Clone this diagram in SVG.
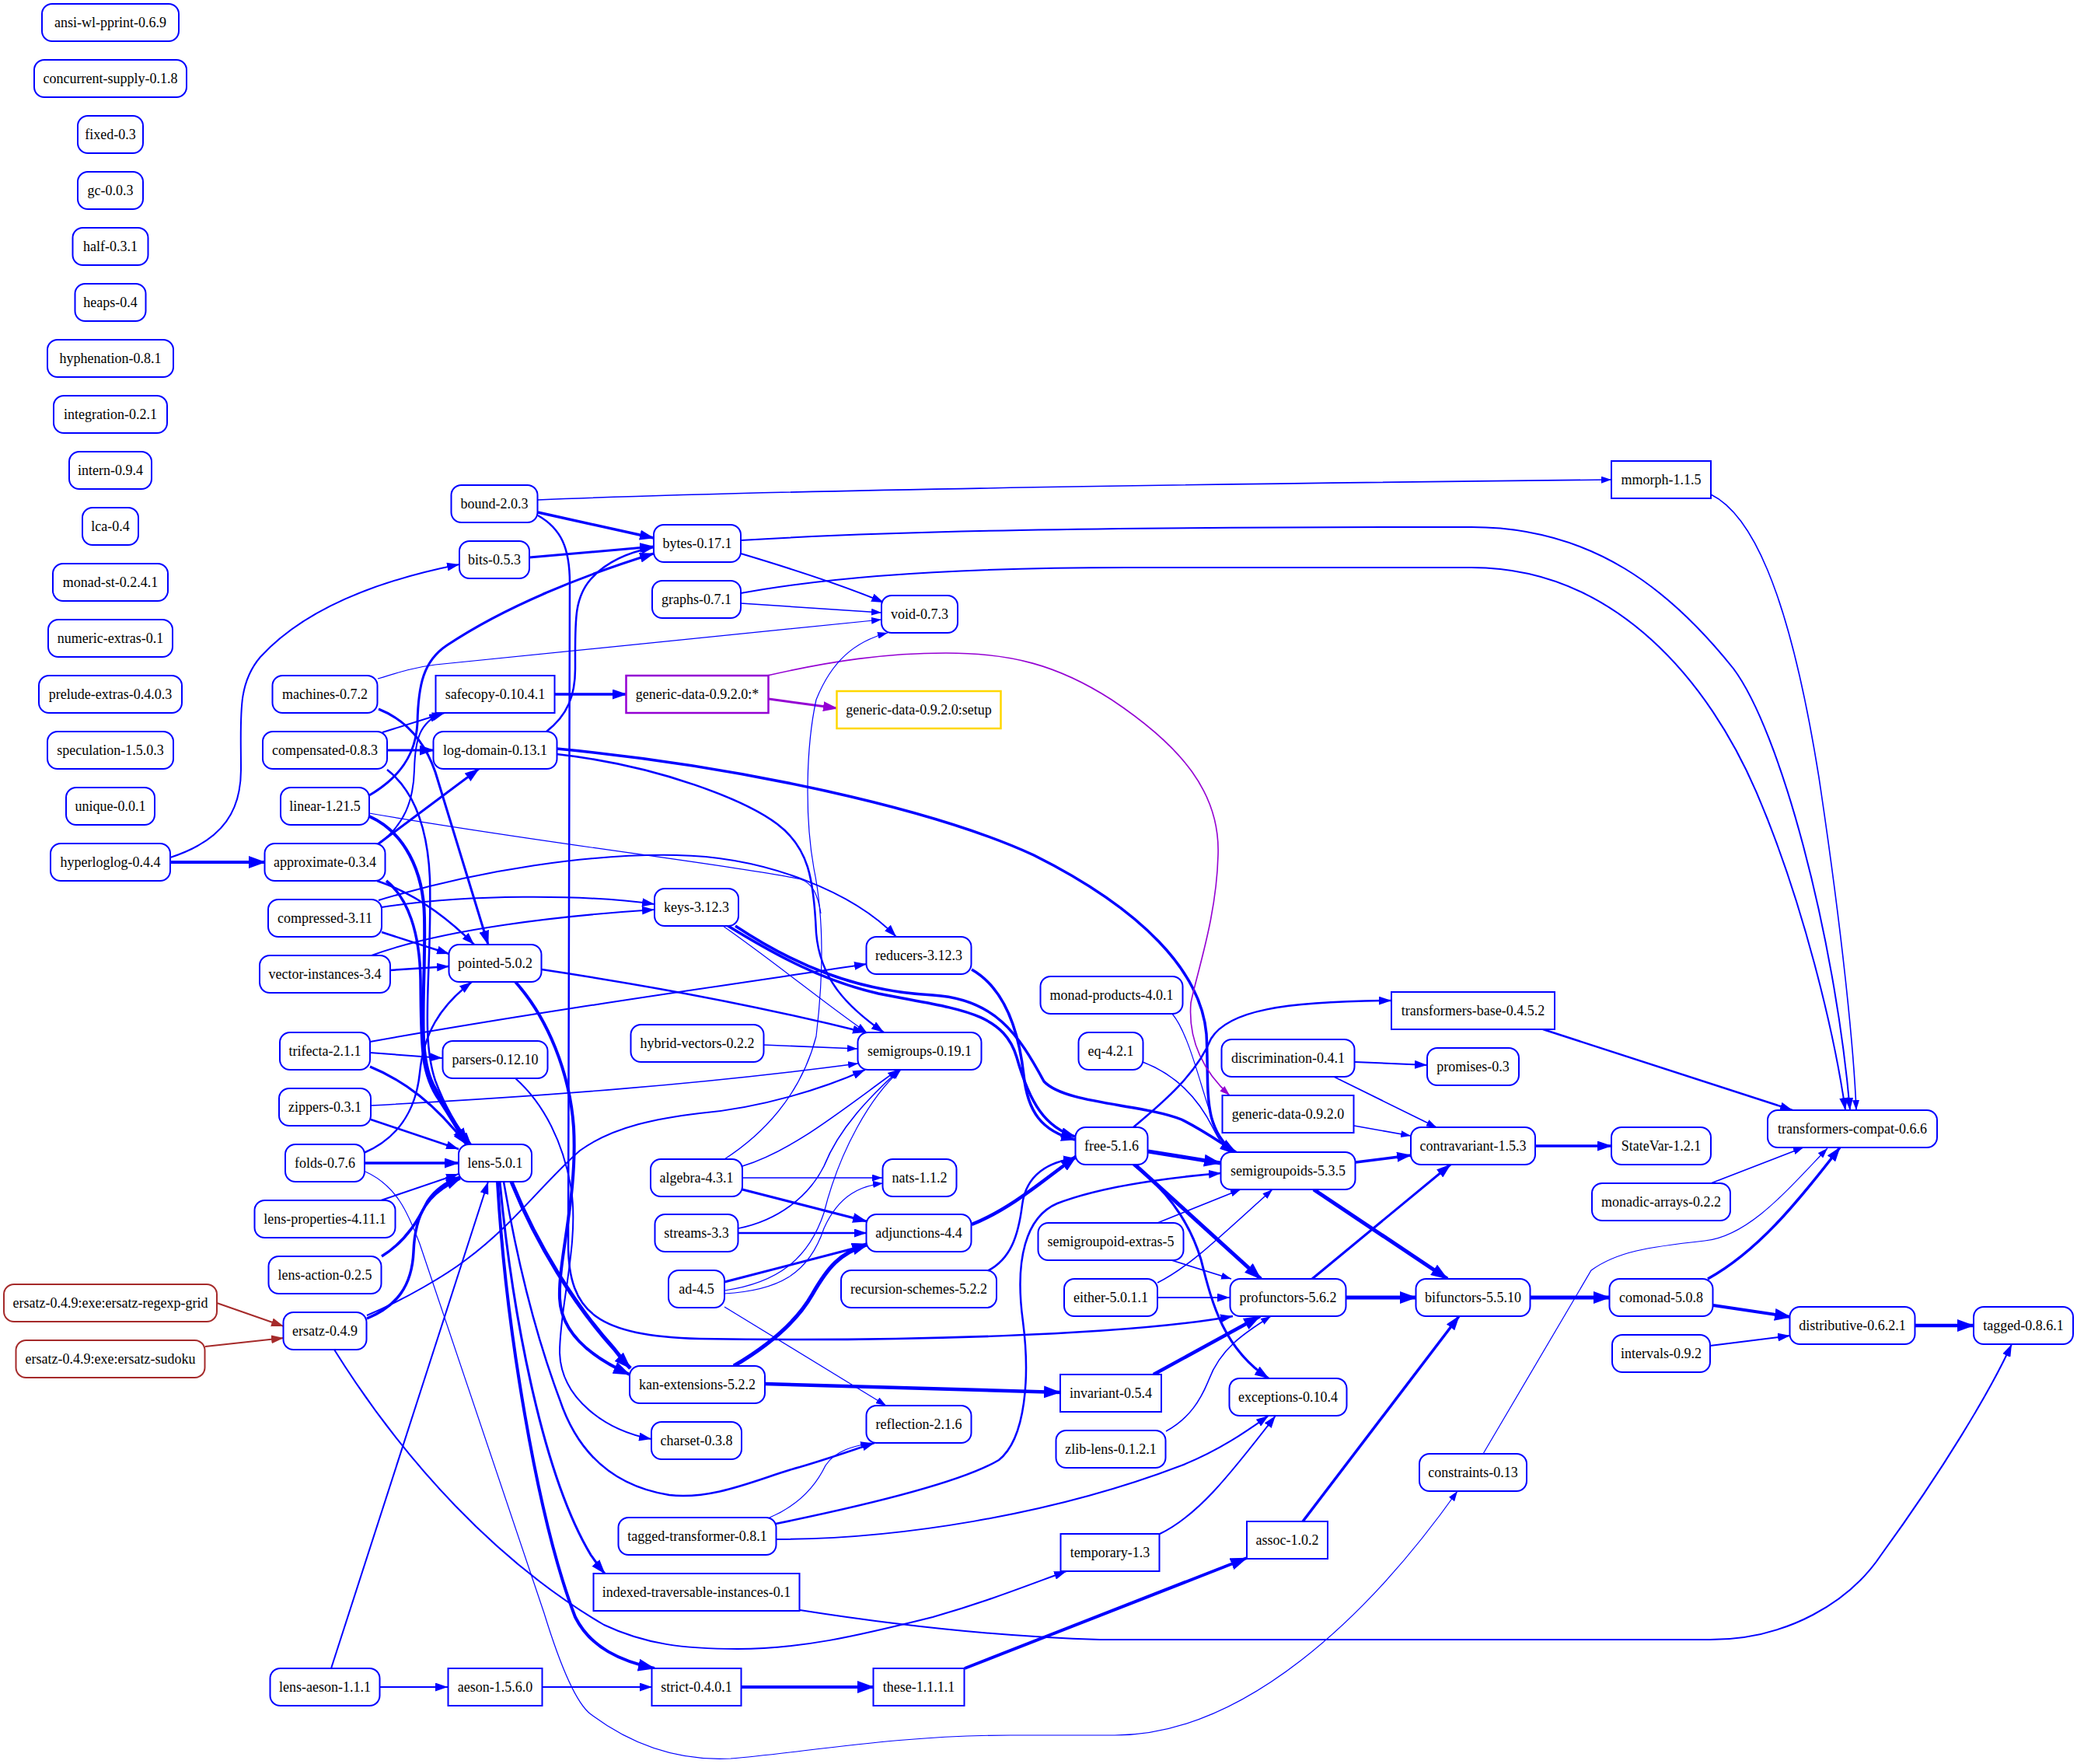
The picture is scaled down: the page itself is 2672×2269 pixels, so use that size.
<svg xmlns="http://www.w3.org/2000/svg" width="2672" height="2269" viewBox="0 0 2672 2269">
<defs>
<style>
#edges path{fill:none;stroke:#0000ff}
.e1{stroke-width:1.2;marker-end:url(#ms)}
.e15{stroke-width:1.6;marker-end:url(#ms)}
.e2{stroke-width:2;marker-end:url(#mm)}
.e25{stroke-width:2.5;marker-end:url(#mm)}
.e3{stroke-width:3;marker-end:url(#ml)}
.e35{stroke-width:3.5;marker-end:url(#ml)}
.e4{stroke-width:4;marker-end:url(#mx)}
.e45{stroke-width:4.5;marker-end:url(#mx)}
.e5{stroke-width:5;marker-end:url(#mx)}
#edges path.na{marker-end:none}
#edges path.pu{stroke:#9400d3}
#edges path.pu.e15{marker-end:url(#mps)}
#edges path.pu.e3{marker-end:url(#mpl)}
#edges path.br{stroke:#a52a2a;marker-end:url(#mbm)}
.n rect{fill:#fff;stroke:#0000ff;stroke-width:2}
.n text{font-family:"Liberation Serif","Times New Roman",serif;font-size:18px;text-anchor:middle;fill:#000}
.n.pu rect{stroke:#9400d3;stroke-width:2.5}
.n.go rect{stroke:#ffd700;stroke-width:2.5}
.n.br rect{stroke:#a52a2a}
</style>
<marker id="ms" markerUnits="userSpaceOnUse" viewBox="0 0 13 9" markerWidth="13" markerHeight="9" refX="13" refY="4.5" orient="auto"><path d="M0,0L13,4.5L0,9z" fill="#0000ff"/></marker>
<marker id="mm" markerUnits="userSpaceOnUse" viewBox="0 0 16 11" markerWidth="16" markerHeight="11" refX="16" refY="5.5" orient="auto"><path d="M0,0L16,5.5L0,11z" fill="#0000ff"/></marker>
<marker id="ml" markerUnits="userSpaceOnUse" viewBox="0 0 19 13" markerWidth="19" markerHeight="13" refX="18" refY="6.5" orient="auto"><path d="M0,0L19,6.5L0,13z" fill="#0000ff"/></marker>
<marker id="mx" markerUnits="userSpaceOnUse" viewBox="0 0 22 16" markerWidth="22" markerHeight="16" refX="21" refY="8" orient="auto"><path d="M0,0L22,8L0,16z" fill="#0000ff"/></marker>
<marker id="mps" markerUnits="userSpaceOnUse" viewBox="0 0 13 9" markerWidth="13" markerHeight="9" refX="13" refY="4.5" orient="auto"><path d="M0,0L13,4.5L0,9z" fill="#9400d3"/></marker>
<marker id="mpl" markerUnits="userSpaceOnUse" viewBox="0 0 19 13" markerWidth="19" markerHeight="13" refX="18" refY="6.5" orient="auto"><path d="M0,0L19,6.5L0,13z" fill="#9400d3"/></marker>
<marker id="mbm" markerUnits="userSpaceOnUse" viewBox="0 0 16 11" markerWidth="16" markerHeight="11" refX="16" refY="5.5" orient="auto"><path d="M0,0L16,5.5L0,11z" fill="#a52a2a"/></marker>
</defs>
<rect width="2672" height="2269" fill="#fff"/>
<g id="edges">
<path class="e2" d="M219,1103 C290,1080 310,1040 310,990 C310,920 305,880 335,845 C390,785 480,748 591,726"/>
<path class="e4" d="M219,1109 L341,1109"/>
<path class="e1" d="M486,873 C515,864 535,858 560,855 L1134,797"/>
<path class="e3" d="M487,912 C520,925 545,950 560,993 L628,1215"/>
<path class="e2" d="M492,942 L572,917"/>
<path class="e3" d="M498,965 L558,965"/>
<path class="e25" d="M498,990 C530,1015 550,1060 553,1130 C556,1250 540,1330 560,1390 C575,1430 592,1455 606,1472"/>
<path class="e3" d="M475,1023 C515,1000 535,970 537,930 C538,880 545,850 575,830 C650,780 750,740 841,712"/>
<path class="e1 na" d="M475,1046 C700,1085 960,1115 1030,1131 C1045,1136 1052,1150 1056,1175"/>
<path class="e4" d="M475,1050 C520,1070 545,1120 546,1180 C548,1280 535,1360 560,1400 C575,1430 588,1452 602,1472"/>
<path class="e3" d="M486,1086 L616,989"/>
<path class="e2" d="M487,1085 C520,1062 532,1030 533,990 C534,950 540,930 568,917"/>
<path class="e25" d="M485,1133 C530,1148 570,1175 610,1215"/>
<path class="e35" d="M497,1133 C525,1155 540,1200 541,1260 C542,1340 540,1380 565,1415 C578,1435 590,1455 600,1472"/>
<path class="e2" d="M491,1167 C600,1150 750,1150 842,1163"/>
<path class="e2" d="M487,1158 C620,1118 760,1098 870,1100 C990,1102 1100,1150 1153,1205"/>
<path class="e25" d="M491,1199 L578,1227"/>
<path class="e2" d="M478,1229 C570,1195 720,1178 842,1170"/>
<path class="e25" d="M502,1248 L578,1243"/>
<path class="e15" d="M692,643 C1000,630 1600,622 2073,617"/>
<path class="e35" d="M692,659 L841,692"/>
<path class="e25" d="M692,663 C722,680 733,705 733,750 L731,1600 C731,1690 770,1718 900,1722 C1150,1726 1450,1718 1586,1693"/>
<path class="e3" d="M681,717 L841,703"/>
<path class="e2" d="M953,695 C1150,683 1400,678 1893,678 C2050,678 2150,760 2230,860 C2290,940 2360,1200 2380,1428"/>
<path class="e2" d="M953,712 C1030,735 1090,755 1137,775"/>
<path class="e2" d="M953,763 C1050,745 1200,730 1450,730 L1893,730 C2080,730 2200,880 2260,1020 C2320,1160 2360,1330 2374,1428"/>
<path class="e15" d="M953,776 L1134,788"/>
<path class="e35" d="M714,893 L806,893"/>
<path class="e25" d="M703,941 C730,920 740,895 740,860 C740,800 738,770 760,745 C780,722 810,710 841,704"/>
<path class="e35" d="M716,963 C950,985 1200,1040 1330,1100 C1470,1170 1545,1250 1552,1330 C1556,1400 1545,1450 1588,1482"/>
<path class="e25" d="M716,970 C850,985 960,1030 1000,1060 C1040,1090 1047,1130 1050,1200 C1055,1260 1090,1295 1137,1328"/>
<path class="e25" d="M697,1247 C850,1270 1000,1300 1113,1328"/>
<path class="e4" d="M663,1263 C705,1310 733,1380 738,1450 C743,1540 718,1620 720,1670 C722,1720 770,1750 810,1768"/>
<path class="e2" d="M663,1387 C700,1420 725,1470 735,1530 C745,1600 720,1680 720,1740 C722,1800 780,1840 838,1851"/>
<path class="e5" d="M658,1520 C690,1600 740,1680 790,1735 C798,1745 804,1753 811,1760"/>
<path class="e25" d="M648,1520 C665,1620 690,1720 720,1800 C740,1860 780,1910 861,1923 C920,1930 980,1900 1029,1887 C1070,1875 1100,1864 1125,1856"/>
<path class="e3" d="M643,1520 C660,1700 700,1900 760,2000 C767,2010 772,2017 778,2024"/>
<path class="e4" d="M640,1520 C650,1700 690,1950 740,2080 C760,2120 800,2137 842,2146"/>
<path class="e2" d="M476,1340 C700,1300 950,1265 1115,1240"/>
<path class="e2" d="M476,1354 L569,1361"/>
<path class="e3" d="M476,1372 C520,1390 560,1420 600,1472"/>
<path class="e15" d="M477,1422 C700,1410 900,1395 1104,1368"/>
<path class="e25" d="M477,1440 L590,1478"/>
<path class="e35" d="M469,1496 L590,1496"/>
<path class="e25" d="M468,1483 C510,1465 535,1430 540,1380 C545,1330 565,1295 607,1263"/>
<path class="e1" d="M470,1507 C510,1525 525,1560 540,1600 L700,2075 C720,2140 740,2190 760,2205 C820,2250 880,2265 940,2262 C1030,2255 1150,2232 1300,2232 L1434,2232 C1600,2232 1760,2080 1875,1918"/>
<path class="e2" d="M490,1544 L590,1510"/>
<path class="e35" d="M491,1616 C525,1595 540,1565 550,1545 C560,1530 575,1520 592,1514"/>
<path class="e35" d="M472,1696 C510,1680 530,1655 532,1610 C534,1560 550,1535 592,1516"/>
<path class="e2" d="M472,1692 C520,1672 574,1640 600,1620 C660,1576 700,1520 746,1480 C790,1448 850,1438 900,1432 C980,1425 1060,1400 1113,1376"/>
<path class="e2" d="M430,1736 C520,1880 640,2010 777,2090 C830,2115 880,2121 949,2121 C1030,2121 1100,2105 1200,2080 C1270,2060 1320,2040 1372,2021"/>
<path class="e2 br" d="M279,1676 L365,1706"/>
<path class="e2 br" d="M264,1732 L365,1721"/>
<path class="e2" d="M426,2146 L628,1520"/>
<path class="e2" d="M489,2170 L576,2170"/>
<path class="e2" d="M697,2170 L839,2170"/>
<path class="e3 pu" d="M989,899 L1077,911"/>
<path class="e15 pu" d="M987,869 C1070,850 1140,840 1217,840 C1300,840 1360,855 1430,900 C1520,960 1570,1020 1567,1100 C1565,1180 1540,1250 1532,1290 C1528,1340 1550,1380 1582,1409"/>
<path class="e35" d="M935,1190 C1000,1230 1060,1262 1130,1278 C1230,1298 1290,1300 1308,1360 C1325,1420 1345,1450 1383,1462"/>
<path class="e35" d="M946,1191 C1020,1240 1100,1275 1200,1280 C1280,1285 1310,1330 1343,1391 C1370,1420 1470,1420 1520,1440 C1550,1455 1570,1470 1590,1482"/>
<path class="e1" d="M930,1191 C1000,1240 1060,1290 1115,1328"/>
<path class="e15" d="M982,1344 L1103,1349"/>
<path class="e1" d="M932,1491 C980,1460 1030,1410 1050,1333 C1060,1250 1060,1180 1047,1117 C1035,1050 1037,960 1050,900 C1070,850 1100,825 1142,814"/>
<path class="e15" d="M955,1500 C1020,1480 1080,1430 1155,1376"/>
<path class="e15" d="M955,1515 L1135,1515"/>
<path class="e3" d="M955,1530 L1115,1571"/>
<path class="e15" d="M950,1580 C1000,1570 1040,1540 1060,1500 C1080,1450 1120,1410 1157,1376"/>
<path class="e25" d="M950,1586 L1115,1586"/>
<path class="e3" d="M932,1649 L1117,1601"/>
<path class="e1" d="M932,1660 C1000,1650 1040,1620 1060,1560 C1080,1480 1120,1410 1159,1376"/>
<path class="e1" d="M932,1664 C1000,1660 1040,1640 1060,1580 C1080,1535 1110,1525 1136,1522"/>
<path class="e1" d="M932,1681 L1140,1808"/>
<path class="e5" d="M944,1757 C990,1730 1025,1700 1045,1665 C1065,1630 1080,1612 1117,1600"/>
<path class="e45" d="M984,1780 L1364,1791"/>
<path class="e1" d="M990,1952 C1030,1935 1050,1910 1062,1885 C1075,1865 1100,1860 1120,1856"/>
<path class="e25" d="M998,1960 C1120,1935 1240,1905 1285,1878 C1320,1850 1325,1770 1316,1700 C1305,1620 1320,1565 1360,1548 C1420,1525 1500,1515 1571,1509"/>
<path class="e2" d="M998,1980 C1150,1980 1350,1950 1520,1885 C1570,1865 1605,1840 1632,1821"/>
<path class="e2" d="M1029,2071 C1150,2090 1280,2105 1415,2109 L2200,2109 C2300,2109 2380,2060 2420,2000 C2500,1890 2560,1790 2588,1729"/>
<path class="e4" d="M954,2170 L1124,2170"/>
<path class="e4" d="M1241,2146 L1604,2004"/>
<path class="e35" d="M1250,1247 C1290,1270 1310,1320 1317,1383 C1322,1430 1340,1455 1383,1466"/>
<path class="e45" d="M1250,1575 C1300,1555 1340,1520 1385,1487"/>
<path class="e25" d="M1270,1635 C1300,1620 1310,1590 1315,1550 C1320,1510 1350,1494 1384,1490"/>
<path class="e1" d="M1508,1304 C1530,1330 1545,1400 1560,1440 C1568,1462 1575,1474 1584,1482"/>
<path class="e15" d="M1470,1366 C1520,1385 1545,1420 1560,1450 C1568,1466 1574,1476 1582,1482"/>
<path class="e5" d="M1477,1481 L1570,1496"/>
<path class="e5" d="M1460,1498 L1622,1645"/>
<path class="e3" d="M1458,1498 C1500,1530 1530,1570 1545,1620 C1560,1680 1575,1735 1632,1773"/>
<path class="e25" d="M1458,1450 C1500,1415 1540,1380 1558,1336 C1580,1300 1650,1288 1790,1287"/>
<path class="e15" d="M1489,1573 L1596,1530"/>
<path class="e15" d="M1507,1621 L1584,1645"/>
<path class="e15" d="M1489,1650 C1530,1630 1570,1590 1637,1530"/>
<path class="e2" d="M1489,1669 L1582,1669"/>
<path class="e45" d="M1484,1768 L1621,1693"/>
<path class="e15" d="M1500,1841 C1530,1825 1545,1800 1555,1775 C1570,1735 1600,1715 1635,1693"/>
<path class="e2" d="M1492,1973 C1540,1950 1580,1900 1641,1821"/>
<path class="e35" d="M1744,1495 L1815,1486"/>
<path class="e5" d="M1690,1530 L1862,1645"/>
<path class="e15" d="M1742,1448 L1815,1461"/>
<path class="e2" d="M1743,1366 L1836,1370"/>
<path class="e15" d="M1716,1385 L1848,1450"/>
<path class="e3" d="M1688,1645 L1866,1498"/>
<path class="e5" d="M1731,1669 L1822,1669"/>
<path class="e35" d="M1676,1957 L1877,1693"/>
<path class="e25" d="M1985,1324 L2306,1428"/>
<path class="e35" d="M1975,1474 L2073,1474"/>
<path class="e5" d="M1969,1669 L2071,1669"/>
<path class="e1" d="M1908,1870 L2047,1634 C2080,1610 2120,1604 2193,1596 C2250,1590 2300,1530 2351,1477"/>
<path class="e15" d="M2201,636 C2250,660 2300,750 2340,1000 C2370,1200 2385,1350 2388,1428"/>
<path class="e15" d="M2201,1522 L2320,1476"/>
<path class="e35" d="M2197,1645 C2260,1610 2310,1550 2367,1476"/>
<path class="e4" d="M2204,1679 L2304,1694"/>
<path class="e2" d="M2200,1731 L2303,1718"/>
<path class="e45" d="M2464,1705 L2539,1705"/>
</g>
<g id="nodes">
<g id="ansi-wl-pprint" class="n"><rect x="54" y="5" width="176" height="48" rx="13"/><text x="142" y="35">ansi-wl-pprint-0.6.9</text></g>
<g id="concurrent-supply" class="n"><rect x="44" y="77" width="196" height="48" rx="13"/><text x="142" y="107">concurrent-supply-0.1.8</text></g>
<g id="fixed" class="n"><rect x="100" y="149" width="84" height="48" rx="13"/><text x="142" y="179">fixed-0.3</text></g>
<g id="gc" class="n"><rect x="100" y="221" width="84" height="48" rx="13"/><text x="142" y="251">gc-0.0.3</text></g>
<g id="half" class="n"><rect x="93.5" y="293" width="97" height="48" rx="13"/><text x="142" y="323">half-0.3.1</text></g>
<g id="heaps" class="n"><rect x="96.5" y="365" width="91" height="48" rx="13"/><text x="142" y="395">heaps-0.4</text></g>
<g id="hyphenation" class="n"><rect x="61" y="437" width="162" height="48" rx="13"/><text x="142" y="467">hyphenation-0.8.1</text></g>
<g id="integration" class="n"><rect x="69" y="509" width="146" height="48" rx="13"/><text x="142" y="539">integration-0.2.1</text></g>
<g id="intern" class="n"><rect x="89" y="581" width="106" height="48" rx="13"/><text x="142" y="611">intern-0.9.4</text></g>
<g id="lca" class="n"><rect x="106" y="653" width="72" height="48" rx="13"/><text x="142" y="683">lca-0.4</text></g>
<g id="monad-st" class="n"><rect x="68" y="725" width="148" height="48" rx="13"/><text x="142" y="755">monad-st-0.2.4.1</text></g>
<g id="numeric-extras" class="n"><rect x="62" y="797" width="160" height="48" rx="13"/><text x="142" y="827">numeric-extras-0.1</text></g>
<g id="prelude-extras" class="n"><rect x="50" y="869" width="184" height="48" rx="13"/><text x="142" y="899">prelude-extras-0.4.0.3</text></g>
<g id="speculation" class="n"><rect x="61" y="941" width="162" height="48" rx="13"/><text x="142" y="971">speculation-1.5.0.3</text></g>
<g id="unique" class="n"><rect x="85" y="1013" width="114" height="48" rx="13"/><text x="142" y="1043">unique-0.0.1</text></g>
<g id="hyperloglog" class="n"><rect x="65" y="1085" width="154" height="48" rx="13"/><text x="142" y="1115">hyperloglog-0.4.4</text></g>
<g id="ersatz-regexp-grid" class="n br"><rect x="5" y="1652" width="274" height="48" rx="13"/><text x="142" y="1682">ersatz-0.4.9:exe:ersatz-regexp-grid</text></g>
<g id="ersatz-sudoku" class="n br"><rect x="20.5" y="1724" width="243" height="48" rx="13"/><text x="142" y="1754">ersatz-0.4.9:exe:ersatz-sudoku</text></g>
<g id="machines" class="n"><rect x="350.5" y="869" width="135" height="48" rx="13"/><text x="418" y="899">machines-0.7.2</text></g>
<g id="compensated" class="n"><rect x="338" y="941" width="160" height="48" rx="13"/><text x="418" y="971">compensated-0.8.3</text></g>
<g id="linear" class="n"><rect x="361" y="1013" width="114" height="48" rx="13"/><text x="418" y="1043">linear-1.21.5</text></g>
<g id="approximate" class="n"><rect x="340.5" y="1085" width="155" height="48" rx="13"/><text x="418" y="1115">approximate-0.3.4</text></g>
<g id="compressed" class="n"><rect x="345" y="1157" width="146" height="48" rx="13"/><text x="418" y="1187">compressed-3.11</text></g>
<g id="vector-instances" class="n"><rect x="334" y="1229" width="168" height="48" rx="13"/><text x="418" y="1259">vector-instances-3.4</text></g>
<g id="trifecta" class="n"><rect x="360" y="1328" width="116" height="48" rx="13"/><text x="418" y="1358">trifecta-2.1.1</text></g>
<g id="zippers" class="n"><rect x="359" y="1400" width="118" height="48" rx="13"/><text x="418" y="1430">zippers-0.3.1</text></g>
<g id="folds" class="n"><rect x="367" y="1472" width="102" height="48" rx="13"/><text x="418" y="1502">folds-0.7.6</text></g>
<g id="lens-properties" class="n"><rect x="327.5" y="1544" width="181" height="48" rx="13"/><text x="418" y="1574">lens-properties-4.11.1</text></g>
<g id="lens-action" class="n"><rect x="345.5" y="1616" width="145" height="48" rx="13"/><text x="418" y="1646">lens-action-0.2.5</text></g>
<g id="ersatz" class="n"><rect x="364.5" y="1688" width="107" height="48" rx="13"/><text x="418" y="1718">ersatz-0.4.9</text></g>
<g id="lens-aeson" class="n"><rect x="347.5" y="2146" width="141" height="48" rx="13"/><text x="418" y="2176">lens-aeson-1.1.1</text></g>
<g id="bound" class="n"><rect x="580.5" y="624" width="111" height="48" rx="13"/><text x="636" y="654">bound-2.0.3</text></g>
<g id="bits" class="n"><rect x="591" y="696" width="90" height="48" rx="13"/><text x="636" y="726">bits-0.5.3</text></g>
<g id="safecopy" class="n"><rect x="560.5" y="869" width="153" height="48"/><text x="637" y="899">safecopy-0.10.4.1</text></g>
<g id="log-domain" class="n"><rect x="557.5" y="941" width="159" height="48" rx="13"/><text x="637" y="971">log-domain-0.13.1</text></g>
<g id="pointed" class="n"><rect x="577.5" y="1215" width="119" height="48" rx="13"/><text x="637" y="1245">pointed-5.0.2</text></g>
<g id="parsers" class="n"><rect x="569.5" y="1339" width="135" height="48" rx="13"/><text x="637" y="1369">parsers-0.12.10</text></g>
<g id="lens" class="n"><rect x="590" y="1472" width="94" height="48" rx="13"/><text x="637" y="1502">lens-5.0.1</text></g>
<g id="aeson" class="n"><rect x="576.5" y="2146" width="121" height="48"/><text x="637" y="2176">aeson-1.5.6.0</text></g>
<g id="bytes" class="n"><rect x="841" y="675" width="112" height="48" rx="13"/><text x="897" y="705">bytes-0.17.1</text></g>
<g id="graphs" class="n"><rect x="839" y="747" width="114" height="48" rx="13"/><text x="896" y="777">graphs-0.7.1</text></g>
<g id="generic-data-star" class="n pu"><rect x="805.5" y="869" width="183" height="48"/><text x="897" y="899">generic-data-0.9.2.0:*</text></g>
<g id="keys" class="n"><rect x="842" y="1143" width="108" height="48" rx="13"/><text x="896" y="1173">keys-3.12.3</text></g>
<g id="hybrid-vectors" class="n"><rect x="811.5" y="1318" width="171" height="48" rx="13"/><text x="897" y="1348">hybrid-vectors-0.2.2</text></g>
<g id="algebra" class="n"><rect x="837" y="1491" width="118" height="48" rx="13"/><text x="896" y="1521">algebra-4.3.1</text></g>
<g id="streams" class="n"><rect x="842.5" y="1562" width="107" height="48" rx="13"/><text x="896" y="1592">streams-3.3</text></g>
<g id="ad" class="n"><rect x="860" y="1634" width="72" height="48" rx="13"/><text x="896" y="1664">ad-4.5</text></g>
<g id="kan-extensions" class="n"><rect x="810" y="1757" width="174" height="48" rx="13"/><text x="897" y="1787">kan-extensions-5.2.2</text></g>
<g id="charset" class="n"><rect x="838" y="1829" width="116" height="48" rx="13"/><text x="896" y="1859">charset-0.3.8</text></g>
<g id="tagged-transformer" class="n"><rect x="795.5" y="1952" width="203" height="48" rx="13"/><text x="897" y="1982">tagged-transformer-0.8.1</text></g>
<g id="indexed-traversable-instances" class="n"><rect x="763.5" y="2024" width="265" height="48"/><text x="896" y="2054">indexed-traversable-instances-0.1</text></g>
<g id="strict" class="n"><rect x="838.5" y="2146" width="115" height="48"/><text x="896" y="2176">strict-0.4.0.1</text></g>
<g id="void" class="n"><rect x="1134" y="766" width="98" height="48" rx="13"/><text x="1183" y="796">void-0.7.3</text></g>
<g id="generic-data-setup" class="n go"><rect x="1076.5" y="889" width="211" height="48"/><text x="1182" y="919">generic-data-0.9.2.0:setup</text></g>
<g id="reducers" class="n"><rect x="1114.5" y="1205" width="135" height="48" rx="13"/><text x="1182" y="1235">reducers-3.12.3</text></g>
<g id="semigroups" class="n"><rect x="1103.5" y="1328" width="159" height="48" rx="13"/><text x="1183" y="1358">semigroups-0.19.1</text></g>
<g id="nats" class="n"><rect x="1135.5" y="1491" width="95" height="48" rx="13"/><text x="1183" y="1521">nats-1.1.2</text></g>
<g id="adjunctions" class="n"><rect x="1114.5" y="1562" width="135" height="48" rx="13"/><text x="1182" y="1592">adjunctions-4.4</text></g>
<g id="recursion-schemes" class="n"><rect x="1082" y="1634" width="200" height="48" rx="13"/><text x="1182" y="1664">recursion-schemes-5.2.2</text></g>
<g id="reflection" class="n"><rect x="1114.5" y="1808" width="135" height="48" rx="13"/><text x="1182" y="1838">reflection-2.1.6</text></g>
<g id="these" class="n"><rect x="1123.5" y="2146" width="117" height="48"/><text x="1182" y="2176">these-1.1.1.1</text></g>
<g id="monad-products" class="n"><rect x="1338.5" y="1256" width="183" height="48" rx="13"/><text x="1430" y="1286">monad-products-4.0.1</text></g>
<g id="eq" class="n"><rect x="1387.5" y="1328" width="83" height="48" rx="13"/><text x="1429" y="1358">eq-4.2.1</text></g>
<g id="free" class="n"><rect x="1383.5" y="1450" width="93" height="48" rx="13"/><text x="1430" y="1480">free-5.1.6</text></g>
<g id="semigroupoid-extras" class="n"><rect x="1335.5" y="1573" width="187" height="48" rx="13"/><text x="1429" y="1603">semigroupoid-extras-5</text></g>
<g id="either" class="n"><rect x="1369" y="1645" width="120" height="48" rx="13"/><text x="1429" y="1675">either-5.0.1.1</text></g>
<g id="invariant" class="n"><rect x="1364" y="1768" width="130" height="48"/><text x="1429" y="1798">invariant-0.5.4</text></g>
<g id="zlib-lens" class="n"><rect x="1358.5" y="1840" width="141" height="48" rx="13"/><text x="1429" y="1870">zlib-lens-0.1.2.1</text></g>
<g id="temporary" class="n"><rect x="1364.5" y="1973" width="127" height="48"/><text x="1428" y="2003">temporary-1.3</text></g>
<g id="discrimination" class="n"><rect x="1571.5" y="1337" width="171" height="48" rx="13"/><text x="1657" y="1367">discrimination-0.4.1</text></g>
<g id="generic-data" class="n"><rect x="1572.5" y="1409" width="169" height="48"/><text x="1657" y="1439">generic-data-0.9.2.0</text></g>
<g id="semigroupoids" class="n"><rect x="1570.5" y="1482" width="173" height="48" rx="13"/><text x="1657" y="1512">semigroupoids-5.3.5</text></g>
<g id="profunctors" class="n"><rect x="1582.5" y="1645" width="149" height="48" rx="13"/><text x="1657" y="1675">profunctors-5.6.2</text></g>
<g id="exceptions" class="n"><rect x="1581.5" y="1773" width="151" height="48" rx="13"/><text x="1657" y="1803">exceptions-0.10.4</text></g>
<g id="assoc" class="n"><rect x="1604" y="1957" width="104" height="48"/><text x="1656" y="1987">assoc-1.0.2</text></g>
<g id="transformers-base" class="n"><rect x="1790" y="1276" width="210" height="48"/><text x="1895" y="1306">transformers-base-0.4.5.2</text></g>
<g id="promises" class="n"><rect x="1836" y="1348" width="118" height="48" rx="13"/><text x="1895" y="1378">promises-0.3</text></g>
<g id="contravariant" class="n"><rect x="1815" y="1450" width="160" height="48" rx="13"/><text x="1895" y="1480">contravariant-1.5.3</text></g>
<g id="bifunctors" class="n"><rect x="1821.5" y="1645" width="147" height="48" rx="13"/><text x="1895" y="1675">bifunctors-5.5.10</text></g>
<g id="constraints" class="n"><rect x="1826" y="1870" width="138" height="48" rx="13"/><text x="1895" y="1900">constraints-0.13</text></g>
<g id="mmorph" class="n"><rect x="2073" y="593" width="128" height="48"/><text x="2137" y="623">mmorph-1.1.5</text></g>
<g id="StateVar" class="n"><rect x="2073" y="1450" width="128" height="48" rx="13"/><text x="2137" y="1480">StateVar-1.2.1</text></g>
<g id="monadic-arrays" class="n"><rect x="2048" y="1522" width="178" height="48" rx="13"/><text x="2137" y="1552">monadic-arrays-0.2.2</text></g>
<g id="comonad" class="n"><rect x="2070.5" y="1645" width="133" height="48" rx="13"/><text x="2137" y="1675">comonad-5.0.8</text></g>
<g id="intervals" class="n"><rect x="2074" y="1717" width="126" height="48" rx="13"/><text x="2137" y="1747">intervals-0.9.2</text></g>
<g id="transformers-compat" class="n"><rect x="2274" y="1428" width="218" height="48" rx="13"/><text x="2383" y="1458">transformers-compat-0.6.6</text></g>
<g id="distributive" class="n"><rect x="2302.5" y="1681" width="161" height="48" rx="13"/><text x="2383" y="1711">distributive-0.6.2.1</text></g>
<g id="tagged" class="n"><rect x="2539" y="1681" width="128" height="48" rx="13"/><text x="2603" y="1711">tagged-0.8.6.1</text></g>
</g>
</svg>
